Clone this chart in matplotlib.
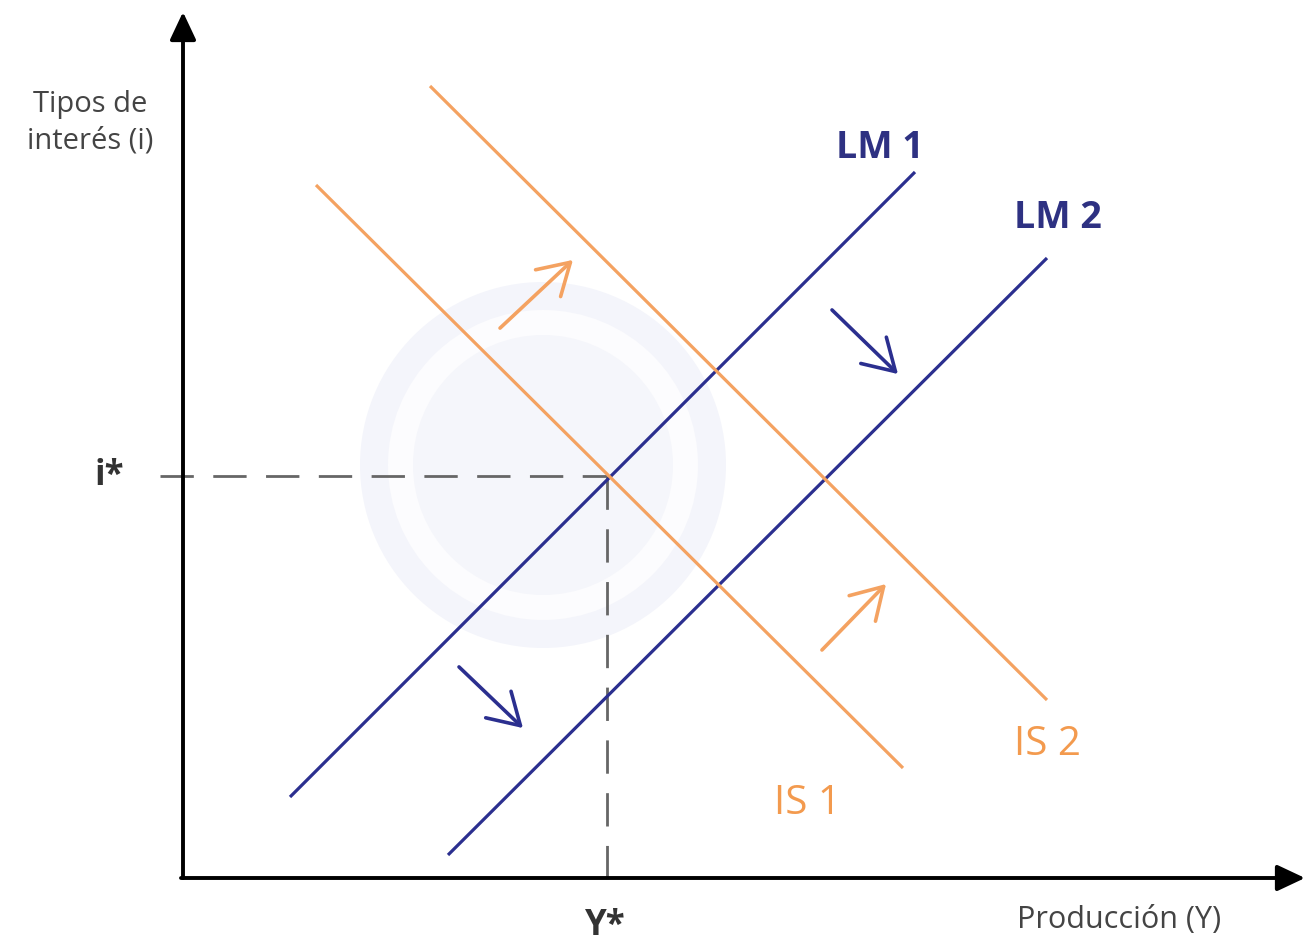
import matplotlib
matplotlib.use("Agg")
import matplotlib.pyplot as plt
from matplotlib.patches import Circle, FancyArrowPatch

# ---- data (schematic coordinates: Y = output, i = interest rate) ----
curve_names = ["LM 1", "LM 2", "IS 1", "IS 2"]
curve_y = [[1.07, 7.32], [2.65, 8.64], [1.33, 7.20], [2.47, 8.64]]
curve_i = [[0.81, 7.06], [0.23, 6.20], [6.93, 1.10], [7.92, 1.78]]
label_pos_y = [6.97, 8.75, 6.24, 8.64]
label_pos_i = [7.30, 6.60, 0.74, 1.33]
equilibrium = (4.24, 4.02)  # (Y*, i*)
shift_arrows_from = [(3.15, 5.48), (6.37, 2.26), (2.74, 2.13), (6.47, 5.70)]
shift_arrows_to = [(3.92, 6.20), (7.05, 2.96), (3.42, 1.48), (7.17, 5.02)]
shift_kind = ["IS", "IS", "LM", "LM"]

orange = "#F4A261"
orange_txt = "#F39A4E"
navy = "#2B2F8F"
navy_txt = "#2E3182"

fig = plt.figure(figsize=(13.09, 9.46), dpi=100)
ax = fig.add_axes([0, 0, 1, 1])
ax.set_xlim(-1.83, 11.26)
ax.set_ylim(-0.68, 8.78)
ax.axis("off")

# faint watermark
ax.add_patch(Circle((3.60, 4.13), 1.83, facecolor="#F4F5FB", edgecolor="none", zorder=0))
ax.add_patch(Circle((3.60, 4.13), 1.55, facecolor="#FCFCFE", edgecolor="none", zorder=0))
ax.add_patch(Circle((3.60, 4.13), 1.30, facecolor="#F5F6FB", edgecolor="none", zorder=0))

# axes with arrowheads
ax.annotate("", xy=(0, 8.66), xytext=(0, 0),
            arrowprops=dict(arrowstyle="-|>,head_length=1.7,head_width=0.8",
                            color="black", lw=2.8, shrinkA=0, shrinkB=0))
ax.annotate("", xy=(11.22, 0), xytext=(-0.02, 0),
            arrowprops=dict(arrowstyle="-|>,head_length=1.7,head_width=0.8",
                            color="black", lw=2.8, shrinkA=0, shrinkB=0))

# dashed guides
ys, is_ = equilibrium
ax.plot([-0.23, ys], [is_, is_], ls=(0, (12, 7)), color="#666666", lw=2.0, zorder=2)
ax.plot([ys, ys], [is_, -0.17], ls=(0, (12, 7)), color="#666666", lw=2.0, zorder=2)

# curves
for name, xs, yv, lx, ly in zip(curve_names, curve_y, curve_i, label_pos_y, label_pos_i):
    is_lm = name.startswith("LM")
    c = navy if is_lm else orange
    ax.plot(xs, yv, color=c, lw=2.3, solid_capstyle="butt", zorder=3)
    ax.text(lx, ly, name, color=navy_txt if is_lm else orange_txt,
            fontsize=27 if is_lm else 29, fontweight="bold" if is_lm else "normal",
            family="Open Sans", ha="center", va="center")

# shift arrows
for (x0, y0), (x1, y1), k in zip(shift_arrows_from, shift_arrows_to, shift_kind):
    c = orange if k == "IS" else navy
    ax.add_patch(FancyArrowPatch((x0, y0), (x1, y1),
                                 arrowstyle="->,head_length=10,head_width=6",
                                 color=c, lw=2.6, mutation_scale=2.2, zorder=4))

# axis labels
ax.text(-0.93, 7.55, "Tipos de\ninterés (i)", fontsize=21, color="#444444",
        family="Open Sans", ha="center", va="center", linespacing=1.35)
ax.text(9.36, -0.42, "Producción (Y)", fontsize=22, color="#444444",
        family="Open Sans", ha="center", va="center")
ax.text(-0.74, is_, "i*", fontsize=25, color="#333333", fontweight="bold",
        family="Open Sans", ha="center", va="center")
ax.text(ys - 0.02, -0.48, "Y*", fontsize=25, color="#333333", fontweight="bold",
        family="Open Sans", ha="center", va="center")

fig.savefig("out.png", dpi=100, facecolor="white")
